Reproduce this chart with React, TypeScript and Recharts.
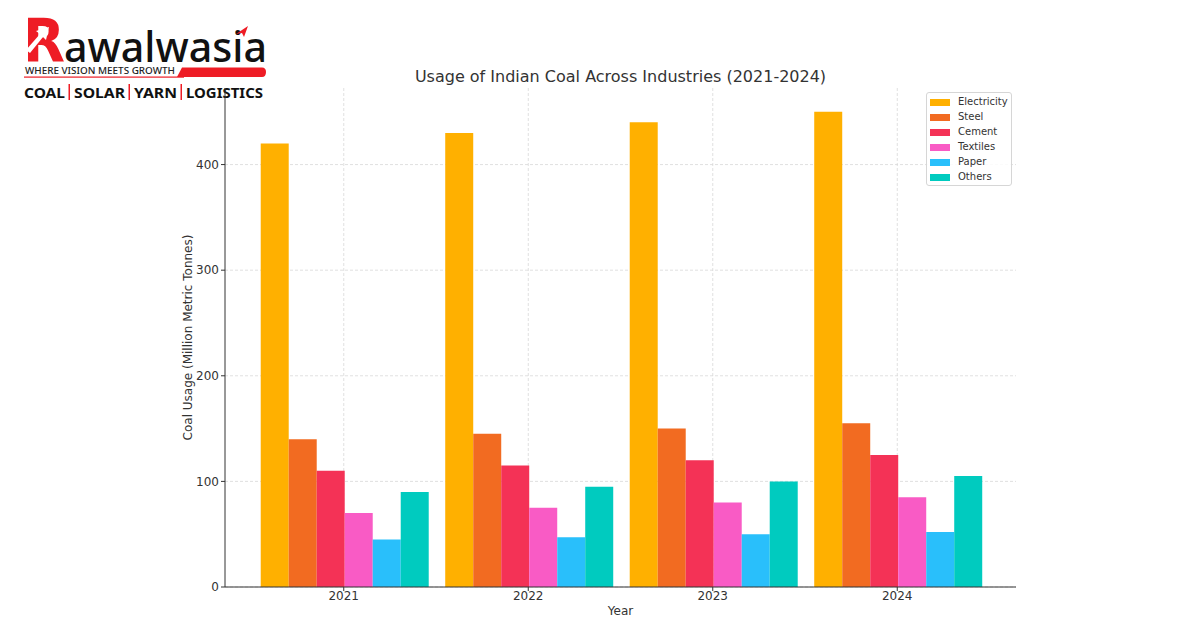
import React from 'react';
import { Bar, BarChart, CartesianGrid, XAxis, YAxis } from 'recharts';

const years = ['2021', '2022', '2023', '2024'];
const electricity = [420, 430, 440, 450];
const steel = [140, 145, 150, 155];
const cement = [110, 115, 120, 125];
const textiles = [70, 75, 80, 85];
const paper = [45, 47, 50, 52];
const others = [90, 95, 100, 105];
const yTicks = [0, 100, 200, 300, 400];

const series = [
  { key: 'electricity', name: 'Electricity', values: electricity, color: '#FFB000' },
  { key: 'steel', name: 'Steel', values: steel, color: '#F26B21' },
  { key: 'cement', name: 'Cement', values: cement, color: '#F43256' },
  { key: 'textiles', name: 'Textiles', values: textiles, color: '#F95BC5' },
  { key: 'paper', name: 'Paper', values: paper, color: '#29BFFB' },
  { key: 'others', name: 'Others', values: others, color: '#00CBBF' },
];

const FONT = '"DejaVu Sans", sans-serif';
const INK = '#333333';
const RED = '#EE1C25';

function Logo() {
  return (
    <svg width={300} height={110} style={{ position: 'absolute', left: 0, top: 0 }}>
      {/* stylised R with arrow cut-out */}
      <text
        x={23}
        y={62}
        fontFamily='"DejaVu Sans", sans-serif'
        fontWeight={700}
        fontSize={60}
        fill={RED}
        textLength={42}
        lengthAdjust="spacingAndGlyphs"
      >
        R
      </text>
      <path d="M26 50 L40 34 L36 31 L49 27 L46 40 L43 37 L30 53 Z" fill="#ffffff" />
      <text
        x={64}
        y={62}
        fontFamily='"Noto Sans", sans-serif'
        fontWeight={500}
        fontSize={41}
        fill="#111111"
        textLength={203}
        lengthAdjust="spacingAndGlyphs"
      >
        awalwasia
      </text>
      <path d="M236 34 L248 26 L244 37 L242 33 Z" fill={RED} />
      <text
        x={25}
        y={74}
        fontFamily='"Noto Sans", sans-serif'
        fontWeight={500}
        fontSize={9.5}
        fill="#222"
        textLength={150}
        lengthAdjust="spacingAndGlyphs"
      >
        WHERE VISION MEETS GROWTH
      </text>
      <path d="M182 67.5 L262 67.5 Q266 67.5 266 72 Q266 77 262 77 L177 77 Z" fill={RED} />
      <rect x={24} y={76.5} width={160} height={1.2} fill={RED} />
      <g fontFamily='"Noto Sans", sans-serif' fontWeight={700} fontSize={15} fill="#111">
        <text x={24} y={98} textLength={41} lengthAdjust="spacingAndGlyphs">COAL</text>
        <rect x={68.5} y={84} width={1.5} height={16} fill={RED} />
        <text x={74} y={98} textLength={51} lengthAdjust="spacingAndGlyphs">SOLAR</text>
        <rect x={128.5} y={84} width={1.5} height={16} fill={RED} />
        <text x={134} y={98} textLength={43} lengthAdjust="spacingAndGlyphs">YARN</text>
        <rect x={180.5} y={84} width={1.5} height={16} fill={RED} />
        <text x={186} y={98} textLength={77} lengthAdjust="spacingAndGlyphs">LOGISTICS</text>
      </g>
    </svg>
  );
}

function LegendBox() {
  return (
    <div
      style={{
        position: 'absolute',
        left: 926,
        top: 92,
        width: 84,
        height: 92,
        border: '1px solid #d6d6d6',
        borderRadius: 3,
        background: 'rgba(255,255,255,0.85)',
        fontFamily: FONT,
        fontSize: 10,
        color: INK,
      }}
    >
      {series.map((s, i) => (
        <div
          key={s.key}
          style={{ position: 'absolute', left: 3, top: 3 + i * 15, height: 12, display: 'flex', alignItems: 'center' }}
        >
          <span style={{ display: 'inline-block', width: 20, height: 7, background: s.color }} />
          <span style={{ marginLeft: 8, lineHeight: '12px' }}>{s.name}</span>
        </div>
      ))}
    </div>
  );
}

export default function App() {
  const data = years.map((y, i) => {
    const row: Record<string, string | number> = { year: y };
    series.forEach((s) => {
      row[s.key] = s.values[i];
    });
    return row;
  });

  return (
    <div
      style={{ position: 'absolute', left: 0, top: 0, width: 1200, height: 644, background: '#fff', overflow: 'hidden' }}
    >
      <Logo />
      <div
        style={{
          position: 'absolute',
          left: 225,
          width: 791,
          top: 67,
          textAlign: 'center',
          fontFamily: FONT,
          fontSize: 16,
          color: INK,
          lineHeight: '20px',
        }}
      >
        Usage of Indian Coal Across Industries (2021-2024)
      </div>
      <BarChart
        width={1200}
        height={644}
        data={data}
        margin={{ top: 88, right: 184, bottom: 27, left: 165 }}
        barCategoryGap="5%"
        barGap={0}
        style={{ position: 'absolute', left: 0, top: 0 }}
      >
        <CartesianGrid stroke="#d8d8d8" strokeDasharray="3 2" strokeWidth={0.8} syncWithTicks />
        <XAxis
          dataKey="year"
          height={30}
          padding={{ left: 26.5, right: 26.5 }}
          axisLine={{ stroke: INK, strokeWidth: 1 }}
          tickLine={{ stroke: INK, strokeWidth: 1 }}
          tickSize={4}
          tick={{ fill: INK, fontSize: 12, fontFamily: FONT, dy: -2 }}
          label={{
            content: ({ viewBox }: any) => (
              <text
                x={viewBox.x + viewBox.width / 2}
                y={615}
                textAnchor="middle"
                fill={INK}
                fontSize={12}
                fontFamily={FONT}
              >
                Year
              </text>
            ),
          }}
        />
        <YAxis
          width={60}
          domain={[0, 472.5]}
          ticks={yTicks}
          type="number"
          allowDataOverflow
          axisLine={{ stroke: INK, strokeWidth: 1 }}
          tickLine={{ stroke: INK, strokeWidth: 1 }}
          tickSize={4}
          tick={{ fill: INK, fontSize: 12, fontFamily: FONT }}
          label={{
            content: ({ viewBox }: any) => {
              const cy = viewBox.y + viewBox.height / 2;
              return (
                <text
                  x={192}
                  y={cy}
                  transform={`rotate(-90, 192, ${cy})`}
                  textAnchor="middle"
                  fill={INK}
                  fontSize={12}
                  fontFamily={FONT}
                >
                  Coal Usage (Million Metric Tonnes)
                </text>
              );
            },
          }}
        />
        {series.map((s) => (
          <Bar key={s.key} dataKey={s.key} name={s.name} fill={s.color} isAnimationActive={false} />
        ))}
      </BarChart>
      <LegendBox />
    </div>
  );
}
